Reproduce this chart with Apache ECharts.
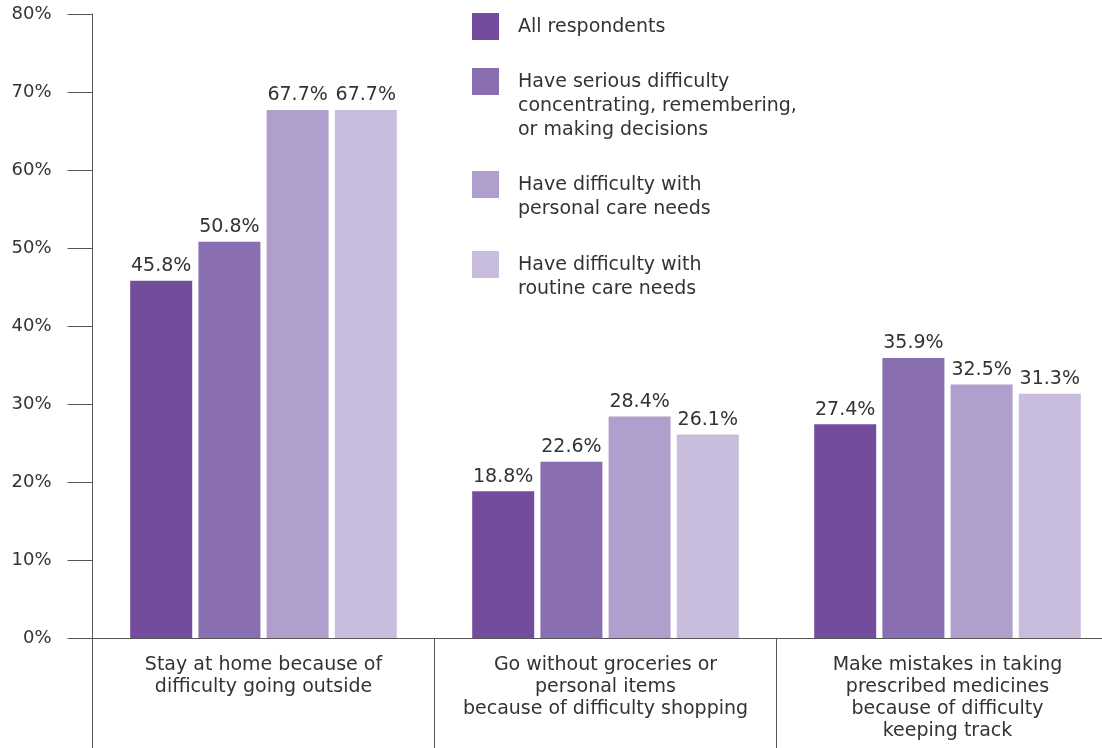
<!DOCTYPE html>
<html>
<head>
<meta charset="utf-8">
<script src="https://cdn.jsdelivr.net/npm/echarts@6/dist/echarts.min.js"></script>
<style>
html,body{margin:0;padding:0;background:#fff;}
#c{width:1102px;height:748px;}
</style>
</head>
<body>
<div id="c"></div>
<script>
const categories = [
  "Stay at home because of\ndifficulty going outside",
  "Go without groceries or\npersonal items\nbecause of difficulty shopping",
  "Make mistakes in taking\nprescribed medicines\nbecause of difficulty\nkeeping track"
];
const seriesNames = [
  "All respondents",
  "Have serious difficulty\nconcentrating, remembering,\nor making decisions",
  "Have difficulty with\npersonal care needs",
  "Have difficulty with\nroutine care needs"
];
const allRespondents = [45.8, 18.8, 27.4];
const seriousDifficulty = [50.8, 22.6, 35.9];
const personalCare = [67.7, 28.4, 32.5];
const routineCare = [67.7, 26.1, 31.3];
const yTicks = [0, 10, 20, 30, 40, 50, 60, 70, 80];
const colors = ["#734C9C", "#8A6FB0", "#B09FCC", "#C8BDDD"];

const FONT = "'DejaVu Sans'";
const seriesData = [allRespondents, seriousDifficulty, personalCare, routineCare];

const chart = echarts.init(document.getElementById('c'), null, {renderer: 'canvas'});

const series = seriesData.map((d, i) => ({
  name: seriesNames[i],
  type: 'bar',
  data: d,
  barWidth: 62,
  barGap: '10%',
  itemStyle: {color: colors[i]},
  label: {
    show: true,
    position: 'top',
    distance: 5,
    formatter: p => p.value.toFixed(1) + '%',
    fontFamily: FONT,
    fontSize: 19,
    color: '#333'
  }
}));

const legendTops = [13, 68, 171, 251];
const graphics = [];
seriesNames.forEach((n, i) => {
  graphics.push({
    type: 'rect', left: 472, top: legendTops[i],
    shape: {width: 27, height: 27},
    style: {fill: colors[i]}
  });
  graphics.push({
    type: 'text', left: 518, top: legendTops[i] + 2,
    style: {text: n, font: '19px ' + FONT, fill: '#333', lineHeight: 24}
  });
});

chart.setOption({
  animation: false,
  grid: {left: 92.5, top: 14, width: 1026, height: 624, containLabel: false, outerBoundsMode: 'none'},
  xAxis: {
    type: 'category',
    data: categories,
    axisLine: {show: true, lineStyle: {color: '#555', width: 1}},
    axisTick: {show: true, length: 110, interval: 0, lineStyle: {color: '#555', width: 1}},
    axisLabel: {
      interval: 0, margin: 16, fontFamily: FONT, fontSize: 19, lineHeight: 22, color: '#333'
    }
  },
  yAxis: {
    type: 'value', min: yTicks[0], max: yTicks[yTicks.length - 1], interval: 10,
    axisLine: {show: true, lineStyle: {color: '#555', width: 1}},
    axisTick: {show: true, length: 25, lineStyle: {color: '#555', width: 1}},
    splitLine: {show: false},
    axisLabel: {
      margin: 41, formatter: v => v + '%', fontFamily: FONT, fontSize: 18, color: '#333'
    }
  },
  series: series,
  graphic: graphics
});
</script>
</body>
</html>
